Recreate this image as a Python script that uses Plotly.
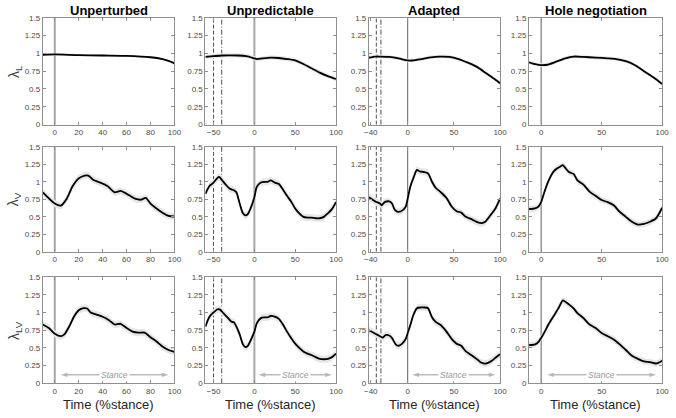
import plotly.graph_objects as go

W, H = 676, 418

col_titles = ["Unperturbed", "Unpredictable", "Adapted", "Hole negotiation"]
row_labels = ["λ<sub>L</sub>", "λ<sub>V</sub>", "λ<sub>LV</sub>"]
x_ranges = [[-10, 100], [-60, 100], [-42, 100], [-10, 100]]
x_ticks = [[0, 20, 40, 60, 80, 100], [-50, 0, 50, 100], [-40, 0, 50, 100], [0, 50, 100]]
y_ticks = [0, 0.25, 0.5, 0.75, 1, 1.25, 1.5]
y_ticktext = ["0", "0.25", "0.5", "0.75", "1", "1.25", "1.5"]
dashed_x = [None, -50, -34, None]
dashdot_x = [None, -40, -29, None]

# ---- Row 1: lambda_L ----
L1_x = [-10, 0, 20, 40, 60, 80, 90, 95, 100]
L1_y = [0.98, 0.985, 0.975, 0.97, 0.965, 0.945, 0.92, 0.895, 0.86]
L2_x = [-60, -50, -40, -20, -10, 0, 3, 10, 20, 30, 40, 50, 60, 70, 80, 90, 100]
L2_y = [0.95, 0.96, 0.97, 0.97, 0.96, 0.93, 0.92, 0.93, 0.94, 0.935, 0.92, 0.90, 0.85, 0.79, 0.73, 0.68, 0.64]
L3_x = [-42, -35, -30, -20, -10, 0, 5, 15, 25, 35, 45, 55, 65, 75, 85, 95, 100]
L3_y = [0.94, 0.955, 0.955, 0.95, 0.93, 0.90, 0.90, 0.92, 0.945, 0.955, 0.95, 0.92, 0.87, 0.81, 0.72, 0.63, 0.58]
L4_x = [-10, -5, 0, 5, 12, 20, 27, 35, 45, 55, 62, 70, 78, 85, 93, 100]
L4_y = [0.875, 0.85, 0.835, 0.84, 0.88, 0.93, 0.955, 0.95, 0.94, 0.93, 0.92, 0.89, 0.83, 0.75, 0.66, 0.57]

# ---- Row 2: lambda_V ----
V1_x = [-10, 0, 5, 10, 15, 20, 25, 28, 32, 38, 44, 50, 55, 60, 67, 72, 76, 80, 85, 90, 95, 100]
V1_y = [0.85, 0.69, 0.66, 0.76, 0.94, 1.05, 1.09, 1.09, 1.03, 0.99, 0.94, 0.85, 0.87, 0.83, 0.76, 0.745, 0.77, 0.69, 0.62, 0.56, 0.515, 0.505]
V2_x = [-60, -55, -50, -45, -43, -40, -35, -30, -25, -22, -18, -14, -11, -8, -4, 0, 3, 8, 12, 16, 20, 25, 30, 35, 40, 45, 50, 55, 60, 65, 70, 75, 80, 85, 90, 95, 100]
V2_y = [0.83, 0.94, 0.99, 1.06, 1.07, 1.03, 0.96, 0.90, 0.88, 0.85, 0.69, 0.55, 0.52, 0.54, 0.64, 0.78, 0.93, 0.99, 1.0, 1.0, 1.02, 0.99, 0.97, 0.89, 0.80, 0.72, 0.62, 0.55, 0.50, 0.49, 0.49, 0.48, 0.48, 0.50, 0.55, 0.61, 0.71]
V3_x = [-42, -35, -30, -28, -25, -20, -17, -14, -10, -5, -2, 0, 3, 6, 10, 13, 18, 22, 26, 30, 36, 42, 48, 53, 58, 63, 70, 76, 80, 84, 90, 95, 100]
V3_y = [0.78, 0.72, 0.69, 0.665, 0.71, 0.72, 0.69, 0.60, 0.57, 0.60, 0.65, 0.76, 0.94, 1.05, 1.17, 1.15, 1.14, 1.12, 1.01, 0.92, 0.85, 0.77, 0.64, 0.58, 0.56, 0.50, 0.46, 0.42, 0.41, 0.43, 0.53, 0.62, 0.76]
V4_x = [-10, -5, -2, 0, 3, 6, 10, 13, 16, 18, 20, 23, 27, 30, 35, 40, 45, 50, 55, 60, 65, 70, 75, 80, 85, 90, 95, 100]
V4_y = [0.61, 0.62, 0.65, 0.71, 0.87, 1.01, 1.14, 1.19, 1.22, 1.24, 1.20, 1.14, 1.11, 1.02, 0.96, 0.86, 0.80, 0.74, 0.71, 0.665, 0.57, 0.50, 0.43, 0.39, 0.40, 0.43, 0.48, 0.63]

# ---- Row 3: lambda_LV ----
LV1_x = [-10, -5, 0, 5, 8, 12, 16, 20, 24, 27, 30, 35, 40, 45, 50, 55, 60, 65, 70, 75, 80, 85, 90, 95, 100]
LV1_y = [0.83, 0.78, 0.70, 0.665, 0.69, 0.80, 0.94, 1.03, 1.06, 1.055, 1.0, 0.97, 0.94, 0.895, 0.83, 0.84, 0.78, 0.73, 0.715, 0.715, 0.65, 0.59, 0.52, 0.47, 0.445]
LV2_x = [-60, -55, -50, -45, -42, -38, -33, -28, -25, -22, -18, -14, -11, -8, -4, 0, 3, 8, 12, 16, 20, 25, 30, 35, 40, 45, 50, 55, 60, 65, 70, 75, 80, 85, 90, 95, 100]
LV2_y = [0.80, 0.94, 1.0, 1.045, 1.04, 0.99, 0.93, 0.87, 0.86, 0.80, 0.69, 0.55, 0.51, 0.53, 0.62, 0.73, 0.85, 0.92, 0.93, 0.93, 0.95, 0.94, 0.91, 0.83, 0.73, 0.64, 0.56, 0.50, 0.45, 0.42, 0.40, 0.37, 0.345, 0.34, 0.345, 0.37, 0.42]
LV3_x = [-42, -35, -30, -27, -24, -20, -17, -13, -10, -6, -2, 0, 3, 6, 10, 14, 18, 22, 26, 30, 36, 42, 48, 53, 58, 63, 70, 76, 80, 85, 90, 95, 100]
LV3_y = [0.75, 0.70, 0.665, 0.645, 0.68, 0.675, 0.64, 0.55, 0.53, 0.56, 0.63, 0.71, 0.83, 0.96, 1.06, 1.07, 1.07, 1.06, 0.94, 0.87, 0.82, 0.73, 0.62, 0.56, 0.53, 0.45, 0.39, 0.33, 0.29, 0.28, 0.31, 0.36, 0.41]
LV4_x = [-10, -5, -2, 0, 3, 6, 10, 14, 18, 20, 24, 27, 30, 35, 40, 45, 50, 55, 60, 65, 70, 75, 80, 85, 90, 95, 100]
LV4_y = [0.54, 0.55, 0.59, 0.64, 0.73, 0.83, 0.94, 1.05, 1.17, 1.15, 1.10, 1.055, 0.99, 0.92, 0.83, 0.78, 0.71, 0.665, 0.62, 0.55, 0.47, 0.39, 0.345, 0.31, 0.30, 0.28, 0.32]

# band half-widths (shaded variability) per panel
band_w = [[0.015, 0.03, 0.025, 0.025],
          [0.05, 0.05, 0.05, 0.045],
          [0.05, 0.05, 0.05, 0.045]]

series = [[(L1_x, L1_y), (L2_x, L2_y), (L3_x, L3_y), (L4_x, L4_y)],
          [(V1_x, V1_y), (V2_x, V2_y), (V3_x, V3_y), (V4_x, V4_y)],
          [(LV1_x, LV1_y), (LV2_x, LV2_y), (LV3_x, LV3_y), (LV4_x, LV4_y)]]

stance_label = "Stance"
stance_range = [5, 95]
stance_mid = 50
stance_y = 0.12
x_label = "Time (%stance)"

# layout geometry (pixels)
col_px = [(38.5, 172.5), (204, 337), (370.5, 504), (533.5, 669)]
row_px = [(14, 123.3), (146, 253.3), (279, 387.7)]

FONT = "Liberation Sans, Arial, sans-serif"
frame_col = "#8f8f8f"
tick_font = dict(family=FONT, size=8, color="#4a4a4a")
arrow_col = "#9a9a9a"

fig = go.Figure()
layout = dict(width=W, height=H, margin=dict(l=0, r=0, t=0, b=0),
              paper_bgcolor="white", plot_bgcolor="white", showlegend=False)
annotations = []

for r in range(3):
    for c in range(4):
        k = r * 4 + c + 1
        xs = "" if k == 1 else str(k)
        xa, ya = "x" + xs, "y" + xs
        x0, x1 = col_px[c]
        y0, y1 = row_px[r]
        layout["xaxis" + xs] = dict(
            domain=[x0 / W, x1 / W], anchor=ya, range=x_ranges[c],
            tickvals=x_ticks[c], ticks="inside", ticklen=3, tickcolor=frame_col,
            showline=True, linecolor=frame_col, linewidth=1, mirror="ticks",
            showgrid=False, zeroline=False, tickfont=tick_font)
        layout["yaxis" + xs] = dict(
            domain=[1 - y1 / H, 1 - y0 / H], anchor=xa, range=[0, 1.5],
            tickvals=y_ticks, ticktext=y_ticktext, ticks="inside", ticklen=3,
            tickcolor=frame_col, showline=True, linecolor=frame_col, linewidth=1,
            mirror="ticks", showgrid=False, zeroline=False, tickfont=tick_font)

        # vertical line at 0
        if c < 2:
            vcol, vw = "#a8a8a8", 2
        else:
            vcol, vw = "#606060", 1
        fig.add_trace(go.Scatter(x=[0, 0], y=[0, 1.5], mode="lines",
                                 line=dict(color=vcol, width=vw),
                                 xaxis=xa, yaxis=ya, hoverinfo="skip"))
        if dashed_x[c] is not None:
            fig.add_trace(go.Scatter(x=[dashed_x[c]] * 2, y=[0, 1.5], mode="lines",
                                     line=dict(color="#505050", width=1, dash="4px,2px"),
                                     xaxis=xa, yaxis=ya, hoverinfo="skip"))
            fig.add_trace(go.Scatter(x=[dashdot_x[c]] * 2, y=[0, 1.5], mode="lines",
                                     line=dict(color="#505050", width=1, dash="5px,2px,1px,2px"),
                                     xaxis=xa, yaxis=ya, hoverinfo="skip"))

        sx, sy = series[r][c]
        w = band_w[r][c]
        lo = [v - w for v in sy]
        hi = [v + w for v in sy]
        fig.add_trace(go.Scatter(x=sx, y=lo, mode="lines", line=dict(width=0, shape="spline", smoothing=0.7),
                                 xaxis=xa, yaxis=ya, hoverinfo="skip"))
        fig.add_trace(go.Scatter(x=sx, y=hi, mode="lines", line=dict(width=0, shape="spline", smoothing=0.7),
                                 fill="tonexty", fillcolor="#e6e6e6",
                                 xaxis=xa, yaxis=ya, hoverinfo="skip"))
        fig.add_trace(go.Scatter(x=sx, y=sy, mode="lines",
                                 line=dict(color="black", width=1.8, shape="spline", smoothing=0.7),
                                 xaxis=xa, yaxis=ya, hoverinfo="skip"))

        if r == 2:
            # double-headed stance arrow: two halves from the middle outwards
            for end in stance_range:
                fig.add_trace(go.Scatter(
                    x=[stance_mid, end], y=[stance_y, stance_y], mode="lines+markers",
                    line=dict(color=arrow_col, width=1),
                    marker=dict(symbol="arrow", angleref="previous", size=[0, 7],
                                color=arrow_col, line=dict(width=0)),
                    xaxis=xa, yaxis=ya, hoverinfo="skip"))
            annotations.append(dict(
                x=stance_mid, y=stance_y, xref=xa, yref=ya,
                text="<i>" + stance_label + "</i>", showarrow=False, bgcolor="white",
                borderpad=1, font=dict(family=FONT, size=8.5, color=arrow_col),
                xanchor="center", yanchor="middle"))
            annotations.append(dict(
                x=(x0 + x1) / 2 / W, y=1 - 409 / H, xref="paper", yref="paper",
                text=x_label, showarrow=False, xanchor="center", yanchor="middle",
                font=dict(family=FONT, size=13, color="#262626")))
        if r == 0:
            annotations.append(dict(
                x=(x0 + x1) / 2 / W, y=1 - 7 / H, xref="paper", yref="paper",
                text="<b>" + col_titles[c] + "</b>", showarrow=False,
                xanchor="center", yanchor="middle",
                font=dict(family=FONT, size=13, color="black")))
    annotations.append(dict(
        x=10 / W, y=1 - (row_px[r][0] + row_px[r][1]) / 2 / H, xref="paper", yref="paper",
        text=row_labels[r], showarrow=False, textangle=-90,
        xanchor="center", yanchor="middle",
        font=dict(family=FONT, size=14, color="#404040")))

layout["annotations"] = annotations
fig.update_layout(**layout)
fig.write_html("out.html")
